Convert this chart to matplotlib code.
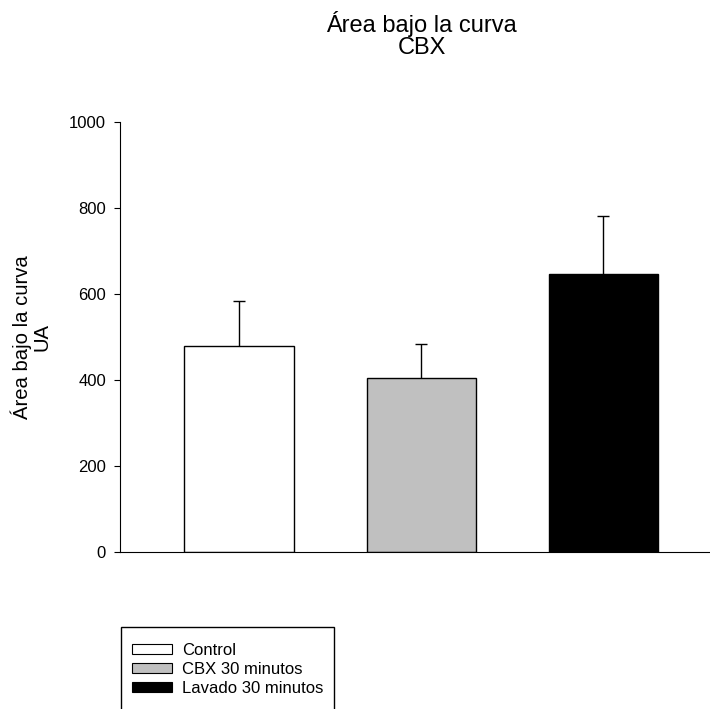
import numpy as np
import matplotlib.pyplot as plt
from matplotlib.patches import Patch

plt.rcParams['font.family'] = ['Liberation Sans', 'DejaVu Sans']

# 数据
groups = ['Control', 'CBX 30 minutos', 'Lavado 30 minutos']
means = [478, 405, 645]
errs = [105, 77, 136]
colors = ['white', '#c0c0c0', 'black']

fig = plt.figure(figsize=(7.10, 7.09), dpi=100)
ax = fig.add_axes([120 / 710, 1 - 551.5 / 709, 590 / 710, 429.5 / 709])

x = np.arange(len(groups))
bars = ax.bar(x, means, width=0.6, color=colors, edgecolor='black', linewidth=1.0)
# 只画向上的误差线
eb = ax.errorbar(x, means, yerr=[np.zeros(len(errs)), errs], fmt='none',
                 ecolor='black', elinewidth=1.0, capsize=4.3, capthick=1.0)
eb[1][0].set_visible(False)  # 去掉下方的横帽

ax.set_xlim(-0.654, 2.585)
ax.set_ylim(0, 1000)
ax.set_yticks(range(0, 1001, 200))
ax.set_xticks([])
ax.tick_params(axis='y', direction='out', length=4, width=0.8, labelsize=12, pad=6)
ax.spines['top'].set_visible(False)
ax.spines['right'].set_visible(False)
ax.spines['left'].set_linewidth(0.8)
ax.spines['bottom'].set_linewidth(0.8)
ax.set_ylabel('Área bajo la curva\nUA', fontsize=14.6, labelpad=13, linespacing=1.0)

fig.text(421.5 / 710, 1 - 11 / 709, 'Área bajo la curva\nCBX', ha='center', va='top',
         fontsize=17, linespacing=1.0)

handles = [Patch(facecolor=c, edgecolor='black', linewidth=0.8) for c in colors]
handles.append(Patch(visible=False))
labels = groups + [' ']
fig.legend(handles, labels, loc='upper left', bbox_to_anchor=(121 / 710, 1 - 627 / 709),
           frameon=True, fancybox=False, edgecolor='black', framealpha=1, fontsize=12,
           handlelength=2.4, handleheight=0.6, handletextpad=0.6, labelspacing=0.24,
           borderpad=0.65, borderaxespad=0, title=' ', title_fontsize=1)

fig.savefig('out.png', dpi=100)
